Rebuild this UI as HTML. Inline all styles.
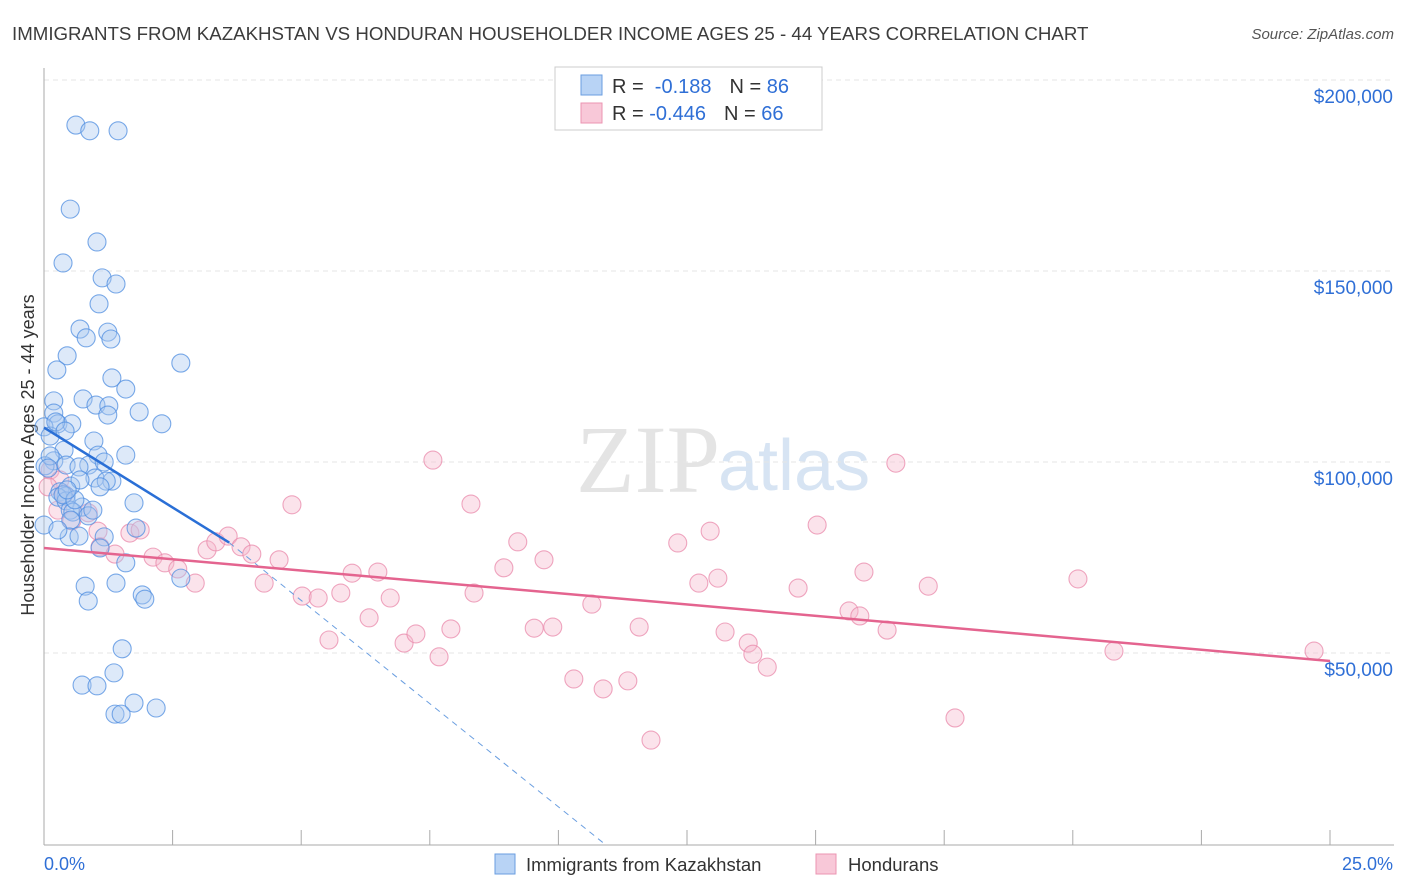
<!DOCTYPE html>
<html><head><meta charset="utf-8"><style>
body{margin:0;background:#fff;font-family:"Liberation Sans",sans-serif;}
svg{display:block}
</style></head><body>
<svg id="chart" width="1406" height="892">
<text x="12" y="40" font-size="18.7" fill="#3c3c3c">IMMIGRANTS FROM KAZAKHSTAN VS HONDURAN HOUSEHOLDER INCOME AGES 25 - 44 YEARS CORRELATION CHART</text>
<text x="1394" y="39" font-size="15" fill="#555" font-style="italic" text-anchor="end">Source: ZipAtlas.com</text>
<text x="720" y="492" font-size="96" fill="#e4e4e4" text-anchor="end" font-family="Liberation Serif,serif">ZIP</text>
<text x="718" y="490" font-size="72" fill="#d7e4f3">atlas</text>
<text transform="translate(34,455) rotate(-90)" font-size="18" fill="#333" text-anchor="middle">Householder Income Ages 25 - 44 years</text>
<g id="grid"></g><g id="pts"></g><g id="trend"></g>
<g>
<rect x="555" y="67" width="267" height="63" fill="#fff" stroke="#ccc"/>
<rect x="581" y="75" width="21" height="20" fill="#b8d3f5" stroke="#6a9ee0"/>
<rect x="581" y="103" width="21" height="20" fill="#f8c8d8" stroke="#eb94b2"/>
<text x="612" y="93" font-size="20" fill="#333">R = <tspan fill="#2f6fd6">&#160;-0.188</tspan><tspan dx="18">N = </tspan><tspan fill="#2f6fd6">86</tspan></text>
<text x="612" y="120" font-size="20" fill="#333">R = <tspan fill="#2f6fd6">-0.446</tspan><tspan dx="18">N = </tspan><tspan fill="#2f6fd6">66</tspan></text>
</g>
<rect x="495" y="854" width="20" height="20" fill="#b8d3f5" stroke="#6a9ee0"/>
<text x="526" y="871" font-size="18.5" fill="#333">Immigrants from Kazakhstan</text>
<rect x="816" y="854" width="20" height="20" fill="#f8c8d8" stroke="#eb94b2"/>
<text x="848" y="871" font-size="18.5" fill="#333">Hondurans</text>
<text x="44" y="870" font-size="18" fill="#2f6fd6">0.0%</text>
<text x="1393" y="870" font-size="18" fill="#2f6fd6" text-anchor="end">25.0%</text>
</svg>
<script>
const yTicks=[50,100,150,200];
const yTickLabels=["$50,000","$100,000","$150,000","$200,000"];
const xTicks=[0,2.5,5,7.5,10,12.5,15,17.5,20,22.5,25];
const blueX=[0.62,0.89,1.44,0.51,1.03,0.37,1.13,1.40,1.07,0.70,1.24,0.82,1.30,0.45,2.66,0.25,1.32,1.59,0.19,0.76,1.01,1.26,0.19,1.85,1.24,2.29,0.27,0.0,0.54,0.12,0.97,0.39,1.59,1.05,0.19,0.43,0.87,0.68,1.17,0.02,0.99,1.32,1.21,0.52,0.31,0.43,1.09,0.27,0.43,1.75,0.74,0.51,0.56,0.86,0.52,0.0,1.79,0.49,0.68,1.17,1.09,1.59,1.40,0.80,1.91,1.96,0.86,2.66,1.52,1.36,0.74,1.03,1.75,2.18,1.38,1.50,0.12,0.08,0.23,0.41,0.95,0.70,0.37,0.60,0.27,0.45];
const blueY=[188.2,186.7,186.7,166.2,157.6,152.1,148.2,146.6,141.4,134.8,134.0,132.5,132.2,127.8,125.9,124.1,122.0,119.1,116.0,116.5,114.9,114.7,112.8,113.1,112.3,110.0,110.0,109.2,110.0,106.8,105.5,103.1,101.8,101.8,100.3,99.2,99.2,98.7,100.0,99.0,95.8,95.0,95.0,93.7,92.2,91.1,93.5,90.8,89.8,89.3,88.2,87.4,86.9,85.9,84.8,83.5,82.7,80.4,80.6,80.4,77.5,73.6,68.3,67.5,65.2,64.1,63.6,69.6,51.1,44.8,41.6,41.4,36.9,35.6,34.0,34.0,101.6,98.4,110.5,108.1,87.4,95.3,91.4,90.1,82.2,92.7];
const pinkX=[0.12,0.31,0.08,0.39,0.27,0.86,0.54,1.05,1.09,1.38,1.67,1.87,2.12,2.35,2.60,2.94,3.17,3.34,3.58,3.83,4.04,4.28,4.57,4.82,5.02,5.33,5.54,5.77,5.99,6.32,6.49,6.73,7.00,7.23,7.56,7.68,7.91,8.30,8.36,8.94,9.21,9.53,9.72,9.89,10.30,10.65,10.87,11.35,11.57,11.80,12.32,12.73,12.95,13.10,13.24,13.69,13.78,14.06,14.66,15.03,15.65,15.86,15.94,16.39,16.56,17.19,17.71,20.10,20.80,24.69];
const pinkY=[97.9,95.3,93.5,91.6,87.4,86.7,84.6,81.9,77.8,75.9,81.4,82.2,75.1,73.6,72.0,68.3,77.0,79.1,80.6,77.8,75.9,68.3,74.4,88.8,64.9,64.4,53.4,65.7,70.9,59.2,71.2,64.4,52.6,55.0,100.5,49.0,56.3,89.0,65.7,72.3,79.1,56.5,74.4,56.8,43.2,62.8,40.6,42.7,56.8,27.2,78.8,68.3,81.9,69.6,55.5,52.6,49.7,46.3,67.0,83.5,61.0,59.7,71.2,56.0,99.7,67.5,33.0,69.4,50.5,50.5];
const blueTrend=[0,109.0,3.6,78.9,10.9,0];
const pinkTrend=[0,77.5,25,47.9];
const NS='http://www.w3.org/2000/svg';
const sx=v=>44+v/25*1286, sy=v=>844-v/50*191;
function mk(t,a,p){const e=document.createElementNS(NS,t);for(const k in a)e.setAttribute(k,a[k]);p.appendChild(e);return e;}
const grid=document.getElementById('grid'),pts=document.getElementById('pts'),tr=document.getElementById('trend');
yTicks.forEach((v,i)=>{
 const l=mk('line',{x1:44,x2:1394,y1:sy(v),y2:sy(v),stroke:'#e6e6e6','stroke-dasharray':'5,4'},grid);
 
 
 const t=mk('text',{x:1393,y:sy(v)+23,'font-size':19,fill:'#2f6fd6','text-anchor':'end'},grid);
 t.textContent=yTickLabels[i];
 
 
});
const ax=mk('line',{x1:44,x2:44,y1:68,y2:845,stroke:'#aaa'},grid);


const bx=mk('line',{x1:44,x2:1394,y1:845,y2:845,stroke:'#aaa'},grid);


xTicks.forEach(v=>{
 const l=mk('line',{x1:sx(v),x2:sx(v),y1:830,y2:845,stroke:'#aaa'},grid);
 
 
});
function dots(X,Y,fill,stroke,name){X.forEach((x,i)=>{
 const c=mk('circle',{cx:sx(x),cy:sy(Y[i]),r:9,fill:fill,'fill-opacity':0.4,stroke:stroke,'stroke-opacity':0.75,'stroke-width':1.1},pts);
 
 
});}
dots(pinkX,pinkY,'#f6b8cc','#e98aab','point-honduran');
dots(blueX,blueY,'#a9c8f0','#4f8ee0','point-kazakhstan');
const b1=mk('line',{x1:sx(blueTrend[0]),y1:sy(blueTrend[1]),x2:sx(blueTrend[2]),y2:sy(blueTrend[3]),stroke:'#2a6fd6','stroke-width':2.5},tr);


const b2=mk('line',{x1:sx(blueTrend[2]),y1:sy(blueTrend[3]),x2:sx(blueTrend[4]),y2:sy(blueTrend[5]),stroke:'#6a9ee0','stroke-width':1,'stroke-dasharray':'6,5'},tr);


const p1=mk('line',{x1:sx(pinkTrend[0]),y1:sy(pinkTrend[1]),x2:sx(pinkTrend[2]),y2:sy(pinkTrend[3]),stroke:'#e4648f','stroke-width':2.5},tr);


</script>
</body></html>
